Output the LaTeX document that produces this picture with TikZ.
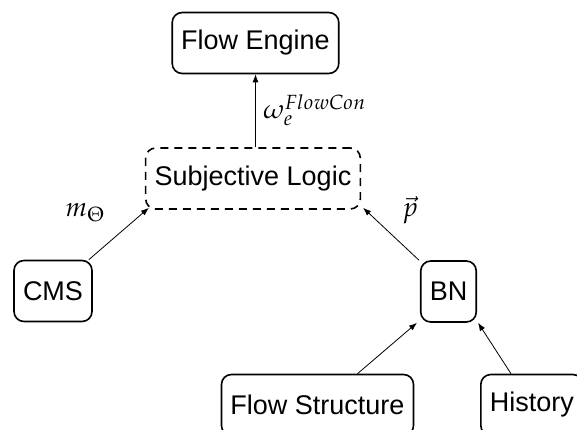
\documentclass[tikz,border=0pt]{standalone}
\usepackage{mathpazo}
\usepackage[no-math]{fontspec}
\setmainfont{Liberation Sans}
\usetikzlibrary{arrows.meta}
\begin{document}
\begin{tikzpicture}[x=1pt,y=-1pt,
 box/.style={draw, line width=1.6pt, rounded corners=10pt, minimum height=61pt, inner xsep=9pt, font=\fontsize{27}{32}\selectfont},
 dbox/.style={box, dash pattern=on 8pt off 6pt},
 conn/.style={-{Latex[length=8pt,width=6pt]}, line width=0.8pt},
 lab/.style={font=\fontsize{27}{32}\selectfont, inner sep=0pt}]
\useasboundingbox (0,0) rectangle (577,430);
\node[box] (fe) at (255.5,43) {Flow Engine};
\node[dbox] (subj) at (253,178.5) {Subjective Logic};
\node[box] (cms) at (53,291) {CMS};
\node[box] (bn) at (448.5,291.5) {BN};
\node[box] (fs) at (317.5,405) {Flow Structure};
\node[box, anchor=west] (hist) at (480,405) {History};
\draw[conn] (fe.south |- subj.north) -- (fe.south);
\draw[conn] ([xshift=-4pt]cms.north east) -- ([xshift=4pt,yshift=2pt]subj.south west);
\draw[conn] ([xshift=-1pt]bn.north west) -- ([xshift=2pt,yshift=2pt]subj.south east);
\draw[conn] ([xshift=40pt]fs.north) -- ([xshift=-3pt]bn.south west);
\draw[conn] ([xshift=31pt]hist.north west) -- ([xshift=1pt]bn.south east);
\node[lab, anchor=west] (lfe) at (263,110) {$\omega_e^{FlowCon}$};
\node[lab] (lcms) at (85,213) {$m_\Theta$};
\node[lab] (lbn) at (410,210) {$\vec{p}$};
\end{tikzpicture}
\end{document}
